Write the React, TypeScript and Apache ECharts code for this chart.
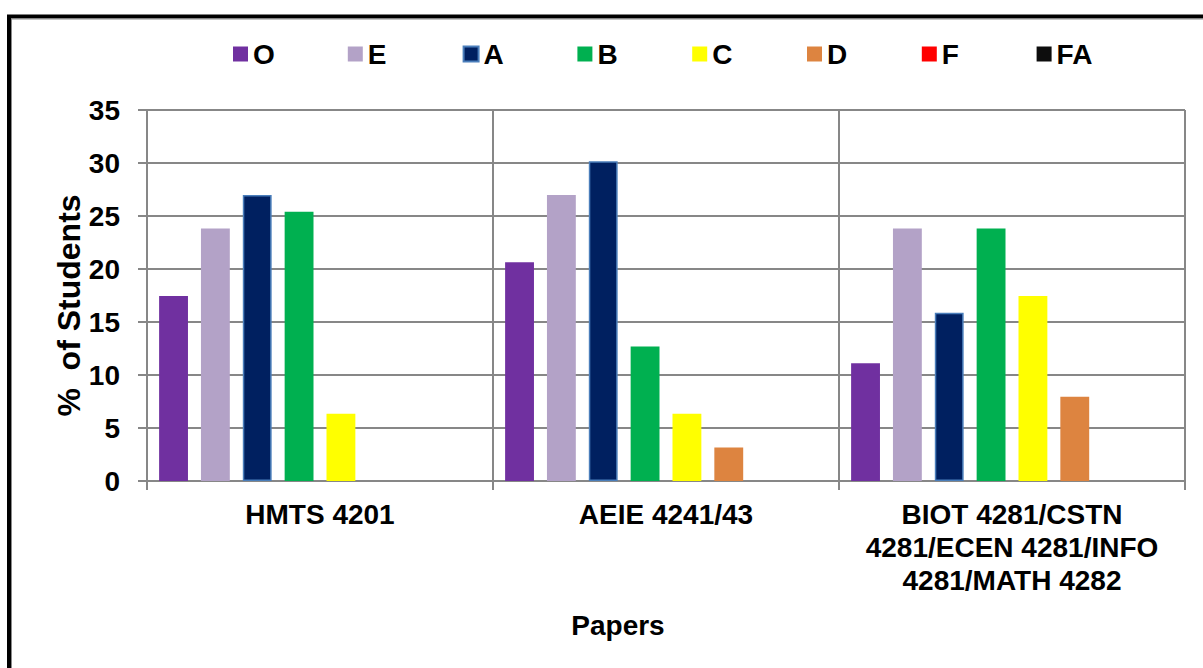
import React, { useEffect, useRef } from "react";
import * as echarts from "echarts";

const categories = [
  "HMTS 4201",
  "AEIE 4241/43",
  "BIOT 4281/CSTN 4281/ECEN 4281/INFO 4281/MATH 4282",
];
const categoryLabels = [
  "HMTS 4201",
  "AEIE 4241/43",
  "BIOT 4281/CSTN\n4281/ECEN 4281/INFO\n4281/MATH 4282",
];
const seriesNames = ["O", "E", "A", "B", "C", "D", "F", "FA"];
const oValues = [17.46, 20.63, 11.11];
const eValues = [23.81, 26.98, 23.81];
const aValues = [26.98, 30.16, 15.87];
const bValues = [25.4, 12.7, 23.81];
const cValues = [6.35, 6.35, 17.46];
const dValues = [0, 3.17, 7.94];
const fValues = [0, 0, 0];
const faValues = [0, 0, 0];
const seriesColors = ["#7030A0", "#B3A2C7", "#002060", "#00B050", "#FFFF00", "#DD8440", "#FF0000", "#0D0D0D"];
const yTicks = { min: 0, max: 35, interval: 5 };

const FONT = "'Liberation Sans', Arial, sans-serif";

export default function App() {
  const ref = useRef<HTMLDivElement>(null);
  useEffect(() => {
    if (!ref.current) return;
    const chart = echarts.init(ref.current, null, { renderer: "svg" });
    const values = [oValues, eValues, aValues, bValues, cValues, dValues, fValues, faValues];
    const series = seriesNames.map((name, i) => ({
      name,
      type: "bar",
      data: values[i],
      barGap: "45%",
      barCategoryGap: "7%",
      itemStyle:
        name === "A"
          ? { color: seriesColors[i], borderColor: "#4A7EBB", borderWidth: 1.5 }
          : { color: seriesColors[i] },
    }));
    const legends = seriesNames.map((name, i) => ({
      left: 228 + i * 114.8,
      top: 35,
      icon: "rect",
      itemWidth: 15,
      itemHeight: 15,
      itemGap: 0,
      data: [name],
      textStyle: { fontFamily: FONT, fontWeight: "bold", fontSize: 28, color: "#000" },
    }));
    chart.setOption({
      animation: false,
      backgroundColor: "#ffffff",
      textStyle: { fontFamily: FONT },
      legend: legends,
      grid: { left: 147, top: 110, right: 18, bottom: 187, containLabel: false },
      xAxis: {
        type: "category",
        data: categories,
        name: "Papers",
        nameLocation: "middle",
        nameGap: 130,
        nameMoveOverlap: false,
        nameTextStyle: {
          fontFamily: FONT,
          fontWeight: "bold",
          fontSize: 28,
          color: "#000",
          padding: [0, 96, 0, 0],
        },
        axisLine: { lineStyle: { color: "#878787", width: 2 } },
        axisTick: { show: true, length: 9, lineStyle: { color: "#878787", width: 2 } },
        splitLine: { show: true, lineStyle: { color: "#878787", width: 2 } },
        axisLabel: {
          fontFamily: FONT,
          fontWeight: "bold",
          fontSize: 28,
          lineHeight: 33,
          color: "#000",
          margin: 17,
          interval: 0,
          formatter: (_v: string, idx: number) => categoryLabels[idx],
        },
      },
      yAxis: {
        type: "value",
        min: yTicks.min,
        max: yTicks.max,
        interval: yTicks.interval,
        name: "%  of Students",
        nameLocation: "middle",
        nameGap: 58,
        nameMoveOverlap: false,
        nameTextStyle: {
          fontFamily: FONT,
          fontWeight: "bold",
          fontSize: 32,
          color: "#000",
          backgroundColor: "#ffffff",
          padding: [0, 20, 4, 0],
        },
        axisLine: { show: true, lineStyle: { color: "#878787", width: 2 } },
        axisTick: { show: true, length: 9, lineStyle: { color: "#878787", width: 2 } },
        splitLine: { show: true, lineStyle: { color: "#878787", width: 2 } },
        axisLabel: {
          fontFamily: FONT,
          fontWeight: "bold",
          fontSize: 28,
          color: "#000",
          margin: 27,
        },
      },
      graphic: [
        {
          type: "rect",
          shape: { x: 9, y: 16.5, width: 1400, height: 900 },
          style: { fill: "none", stroke: "#000", lineWidth: 4 },
          silent: true,
        },
        {
          type: "rect",
          shape: { x: 11.5, y: 19, width: 1400, height: 900 },
          style: { fill: "none", stroke: "#8a8a8a", lineWidth: 1 },
          silent: true,
        },
      ],
      series,
    });
    return () => chart.dispose();
  }, []);
  return (
    <div
      ref={ref}
      style={{ position: "absolute", left: 0, top: 0, width: 1203, height: 668 }}
    />
  );
}
